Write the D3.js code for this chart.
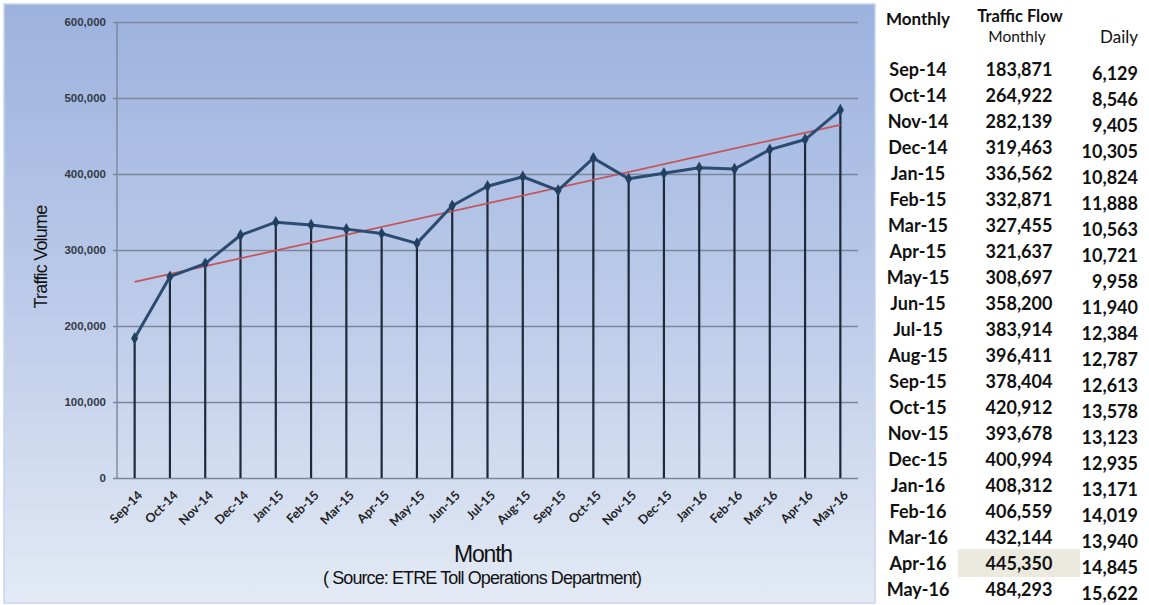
<!DOCTYPE html>
<html>
<head>
<meta charset="utf-8">
<script src="https://cdn.jsdelivr.net/npm/d3@7/dist/d3.min.js"></script>
<style>
  html, body { margin: 0; padding: 0; background: #ffffff; }
  svg { display: block; }
</style>
</head>
<body>
<svg id="chart" width="1149" height="605"></svg>
<script>
// Monthly traffic flow, Sep 2014 – May 2016
const months = ["Sep-14","Oct-14","Nov-14","Dec-14","Jan-15","Feb-15","Mar-15","Apr-15","May-15","Jun-15","Jul-15",
                "Aug-15","Sep-15","Oct-15","Nov-15","Dec-15","Jan-16","Feb-16","Mar-16","Apr-16","May-16"];
const monthlyFlow = [183871,264922,282139,319463,336562,332871,327455,321637,308697,358200,383914,
                     396411,378404,420912,393678,400994,408312,406559,432144,445350,484293];
const dailyFlow = [6129,8546,9405,10305,10824,11888,10563,10721,9958,11940,12384,
                   12787,12613,13578,13123,12935,13171,14019,13940,14845,15622];
const yTicks = [0,100000,200000,300000,400000,500000,600000];
const highlightMonth = "Apr-16";

const svg = d3.select("#chart");
const fmt = d3.format(",");

// ---------- chart panel ----------
const defs = svg.append("defs");
const grad = defs.append("linearGradient").attr("id","panelGrad")
  .attr("x1",0).attr("y1",0).attr("x2",0).attr("y2",1);
grad.append("stop").attr("offset","0%").attr("stop-color","#9cb2de");
grad.append("stop").attr("offset","50%").attr("stop-color","#bccbe9");
grad.append("stop").attr("offset","100%").attr("stop-color","#e3eaf5");

svg.append("rect").attr("x",4).attr("y",4).attr("width",871).attr("height",599)
  .attr("fill","url(#panelGrad)").attr("stroke","#c9d5ec").attr("stroke-width",1.5);

const plot = { left: 117, right: 858, top: 22, bottom: 478 };

const x = d3.scalePoint().domain(months).range([plot.left, plot.right]).padding(0.5);
const y = d3.scaleLinear().domain([0, 600000]).range([plot.bottom, plot.top]);

// horizontal gridlines + y tick labels
const yAxis = d3.axisLeft(y).tickValues(yTicks).tickFormat(fmt)
  .tickSize(-(plot.right - plot.left) - 4).tickPadding(11);
const gy = svg.append("g").attr("transform", `translate(${plot.left - 4},0)`).call(yAxis);
gy.select(".domain").remove();
gy.selectAll(".tick line").attr("stroke","#7b879c").attr("stroke-width",1.6);
gy.selectAll(".tick text")
  .attr("font-family","Liberation Sans, Arial, sans-serif").attr("font-size",11.5)
  .attr("font-weight","bold").attr("fill","#333a46").attr("dx",4);

// vertical axis line
svg.append("line").attr("x1",plot.left).attr("x2",plot.left)
  .attr("y1",plot.top).attr("y2",plot.bottom)
  .attr("stroke","#7b879c").attr("stroke-width",1.4);

// x tick labels
const xAxis = d3.axisBottom(x).tickSize(0).tickPadding(0);
const gx = svg.append("g").attr("transform",`translate(0,${plot.bottom})`).call(xAxis);
gx.select(".domain").remove();
gx.selectAll(".tick text")
  .attr("font-family","Lato, sans-serif").attr("font-size",12.5).attr("font-weight","bold")
  .attr("fill","#222").attr("text-anchor","end")
  .attr("transform","translate(5,15) rotate(-45)").attr("dy","0.35em").attr("y",0);

// drop lines from each point to the baseline
svg.append("g").selectAll("line").data(monthlyFlow).join("line")
  .attr("x1",(d,i)=>x(months[i])).attr("x2",(d,i)=>x(months[i]))
  .attr("y1",d=>y(d)).attr("y2",y(0))
  .attr("stroke","#1d2a3c").attr("stroke-width",2.2);

// linear trend (least squares over month index)
const n = monthlyFlow.length;
const idx = d3.range(n);
const mx = d3.mean(idx), my = d3.mean(monthlyFlow);
const slope = d3.sum(idx, i => (i-mx)*(monthlyFlow[i]-my)) / d3.sum(idx, i => (i-mx)*(i-mx));
const intercept = my - slope*mx;
svg.append("line")
  .attr("x1", x(months[0])).attr("y1", y(intercept))
  .attr("x2", x(months[n-1])).attr("y2", y(intercept + slope*(n-1)))
  .attr("stroke","#c4545a").attr("stroke-width",1.8);

// traffic line
const line = d3.line().x((d,i)=>x(months[i])).y(d=>y(d));
svg.append("path").datum(monthlyFlow).attr("d",line)
  .attr("fill","none").attr("stroke","#2c4b70").attr("stroke-width",3)
  .attr("stroke-linejoin","round");

// diamond markers
svg.append("g").selectAll("path").data(monthlyFlow).join("path")
  .attr("d", d3.symbol(d3.symbolDiamond, 44))
  .attr("transform",(d,i)=>`translate(${x(months[i])},${y(d)})`)
  .attr("fill","#22405f");

// axis titles
svg.append("text").attr("transform","translate(47,257) rotate(-90)")
  .attr("text-anchor","middle").attr("font-family","Liberation Sans, Arial, sans-serif")
  .attr("font-size",18).attr("letter-spacing",-0.8).attr("fill","#111").text("Traffic Volume");

svg.append("text").attr("x",483).attr("y",562).attr("text-anchor","middle")
  .attr("font-family","Liberation Sans, Arial, sans-serif").attr("font-size",23)
  .attr("letter-spacing",-1.2).attr("fill","#111").text("Month");
svg.append("text").attr("x",482).attr("y",584).attr("text-anchor","middle")
  .attr("font-family","Liberation Sans, Arial, sans-serif").attr("font-size",18)
  .attr("letter-spacing",-0.9).attr("fill","#111").text("( Source: ETRE Toll Operations Department)");

// ---------- table ----------
const tbl = svg.append("g").attr("font-family","Lato, sans-serif").attr("fill","#111");
const col = { month: 918, monthly: 1019, daily: 1138 };
const row0 = 76, rowStep = 26;

tbl.append("text").attr("x",col.month).attr("y",25).attr("text-anchor","middle")
  .attr("font-size",17).attr("font-weight","bold").text("Monthly");
tbl.append("text").attr("x",1020).attr("y",22).attr("text-anchor","middle")
  .attr("font-size",16.5).attr("font-weight","bold").text("Traffic Flow");
tbl.append("text").attr("x",1017).attr("y",42).attr("text-anchor","middle")
  .attr("font-size",15.5).text("Monthly");
tbl.append("text").attr("x",col.daily).attr("y",43).attr("text-anchor","end")
  .attr("font-size",17).text("Daily");

const hi = months.indexOf(highlightMonth);
tbl.append("rect").attr("x",958).attr("y",row0 + hi*rowStep - 21).attr("width",122).attr("height",28)
  .attr("fill","#ece9df");

const rows = tbl.selectAll("g.row").data(months).join("g").attr("class","row")
  .attr("transform",(d,i)=>`translate(0,${row0 + i*rowStep})`)
  .attr("font-size",18).attr("font-weight","bold");
rows.append("text").attr("x",col.month).attr("text-anchor","middle").text(d=>d);
rows.append("text").attr("x",col.monthly).attr("text-anchor","middle").text((d,i)=>fmt(monthlyFlow[i]));
rows.append("text").attr("x",col.daily).attr("y",4).attr("text-anchor","end").text((d,i)=>fmt(dailyFlow[i]));
</script>
</body>
</html>
